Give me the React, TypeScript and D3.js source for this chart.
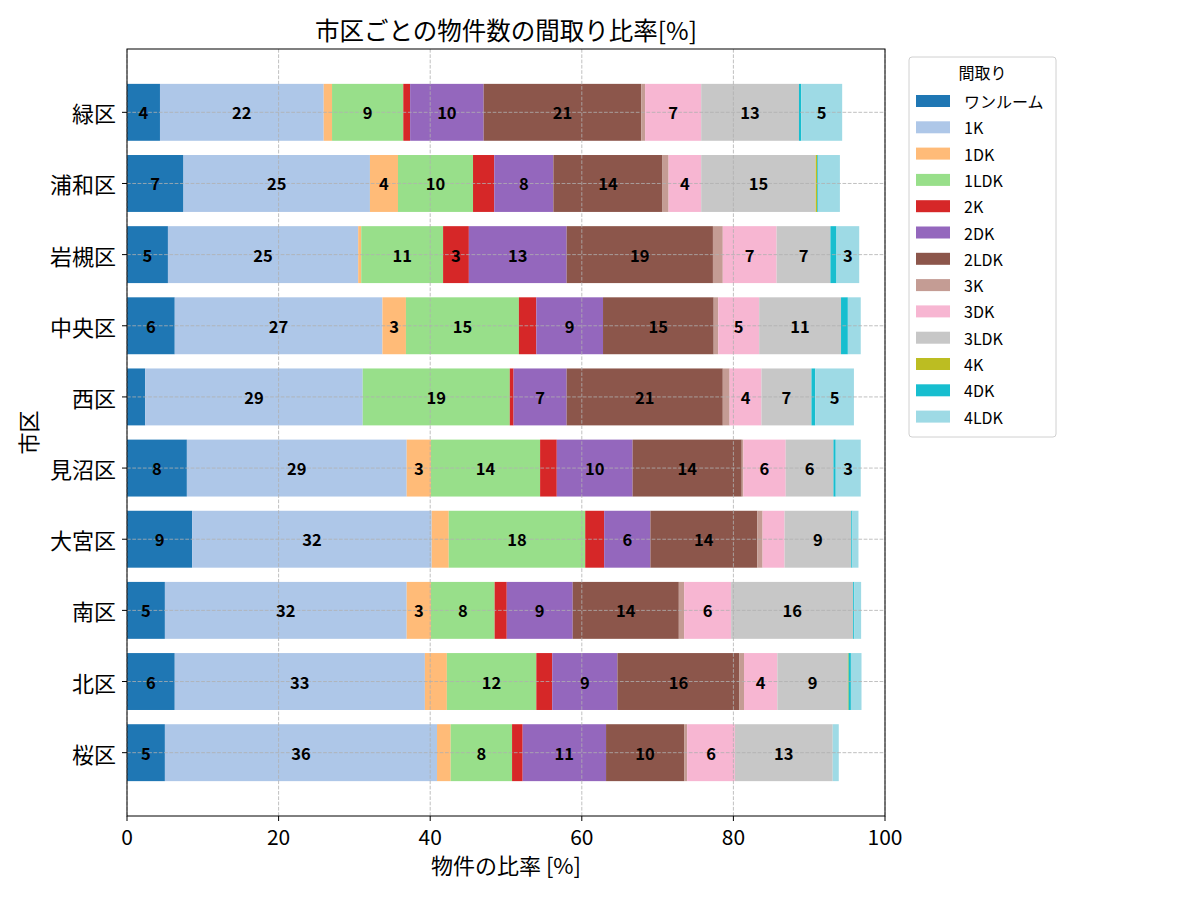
import React from 'react';
import * as d3 from 'd3';

// districts, listed top to bottom
const districts = ['緑区', '浦和区', '岩槻区', '中央区', '西区', '見沼区', '大宮区', '南区', '北区', '桜区'];

const layouts = ['ワンルーム', '1K', '1DK', '1LDK', '2K', '2DK', '2LDK', '3K', '3DK', '3LDK', '4K', '4DK', '4LDK'];

// share of listings [%] per layout, one value per district (same order as districts)
const oneRoom = [4.35, 7.45, 5.4, 6.3, 2.4, 7.9, 8.6, 5.0, 6.3, 5.0];
const k1 = [21.6, 24.6, 25.1, 27.4, 28.7, 29.0, 31.6, 31.9, 33.0, 35.9];
const dk1 = [1.1, 3.7, 0.4, 3.1, 0, 3.2, 2.25, 3.2, 2.9, 1.8];
const ldk1 = [9.4, 9.9, 10.8, 14.9, 19.4, 14.4, 18.0, 8.4, 11.8, 8.1];
const k2 = [0.9, 2.8, 3.4, 2.3, 0.5, 2.2, 2.5, 1.6, 2.1, 1.4];
const dk2 = [9.7, 7.8, 12.9, 8.8, 7.0, 10.0, 6.1, 8.7, 8.6, 11.0];
const ldk2 = [20.8, 14.4, 19.3, 14.6, 20.6, 14.4, 14.1, 14.0, 16.1, 10.3];
const k3 = [0.5, 0.8, 1.3, 0.6, 0.9, 0.2, 0.7, 0.7, 0.6, 0.4];
const dk3 = [7.4, 4.3, 7.1, 5.4, 4.2, 5.6, 2.9, 6.2, 4.4, 6.3];
const ldk3 = [12.9, 15.1, 7.1, 10.8, 6.6, 6.3, 8.8, 16.1, 9.3, 12.9];
const k4 = [0, 0.2, 0, 0, 0, 0, 0, 0, 0.1, 0];
const dk4 = [0.3, 0.1, 0.8, 0.9, 0.5, 0.3, 0.15, 0.15, 0.3, 0];
const ldk4 = [5.4, 2.9, 3.0, 1.7, 5.1, 3.3, 0.8, 0.9, 1.4, 0.8];

const series = [oneRoom, k1, dk1, ldk1, k2, dk2, ldk2, k3, dk3, ldk3, k4, dk4, ldk4];

const colors = [
  '#1f77b4', '#aec7e8', '#ffbb78', '#98df8a', '#d62728', '#9467bd', '#8c564b',
  '#c49c94', '#f7b6d2', '#c7c7c7', '#bcbd22', '#17becf', '#9edae5'
];

const xTicks = [0, 20, 40, 60, 80, 100];

const FONT = '"Noto Sans CJK JP", "Noto Sans", sans-serif';

export default function App() {
  const width = 1200;
  const height = 900;
  const margin = { top: 49, right: 315, bottom: 84, left: 127 };
  const innerW = width - margin.left - margin.right;
  const innerH = height - margin.top - margin.bottom;

  const n = districts.length;
  const barH = 0.8;
  const pad = (n - 1 + barH) * 0.05;

  const x = d3.scaleLinear().domain([0, 100]).range([0, innerW]);
  // row 0 at the top
  const y = d3.scaleLinear()
    .domain([-barH / 2 - pad, n - 1 + barH / 2 + pad])
    .range([0, innerH]);
  const bandPx = Math.abs(y(barH) - y(0));

  const table = districts.map((d, i) => {
    const row: Record<string, number | string> = { district: d };
    layouts.forEach((l, j) => { row[l] = series[j][i]; });
    return row;
  });
  const stacked = d3.stack<any>().keys(layouts)(table);
  const color = d3.scaleOrdinal<string, string>().domain(layouts).range(colors);
  const fmt = d3.format('.0f');

  const legendX = 909;
  const legendY = 57;

  return (
    <svg width={width} height={height} style={{ position: 'absolute', left: 0, top: 0, background: '#fff' }}
      fontFamily={FONT}>
      <text x={margin.left + innerW / 2} y={40} textAnchor="middle" fontSize={24.5}>
        市区ごとの物件数の間取り比率[%]
      </text>
      <g transform={`translate(${margin.left},${margin.top})`}>
        {stacked.map((s) => (
          <g key={s.key}>
            {s.map((seg, i) => (
              <rect key={i} x={x(seg[0])} y={y(i) - bandPx / 2}
                width={x(seg[1]) - x(seg[0])} height={bandPx} fill={color(s.key)} />
            ))}
          </g>
        ))}
        {/* grid drawn over the bars */}
        {xTicks.map((t) => (
          <line key={t} x1={x(t)} x2={x(t)} y1={0} y2={innerH}
            stroke="#b0b0b0" strokeWidth={0.8} strokeDasharray="3.7,1.6" />
        ))}
        {districts.map((d, i) => (
          <line key={d} x1={0} x2={innerW} y1={y(i)} y2={y(i)}
            stroke="#b0b0b0" strokeWidth={0.8} strokeDasharray="3.7,1.6" />
        ))}
        {stacked.map((s) =>
          s.map((seg, i) => {
            const v = seg[1] - seg[0];
            if (v < 3) return null;
            return (
              <text key={`${s.key}-${i}`} x={x((seg[0] + seg[1]) / 2)} y={y(i)}
                textAnchor="middle" dominantBaseline="central" fontSize={16.5} fontWeight="bold">
                {fmt(v)}
              </text>
            );
          })
        )}
        <rect x={0} y={0} width={innerW} height={innerH} fill="none" stroke="#000" strokeWidth={1} />
        {xTicks.map((t) => (
          <g key={t} transform={`translate(${x(t)},${innerH})`}>
            <line y1={0} y2={5} stroke="#000" />
            <text y={29} textAnchor="middle" fontSize={21}>{t}</text>
          </g>
        ))}
        {districts.map((d, i) => (
          <g key={d} transform={`translate(0,${y(i)})`}>
            <line x1={0} x2={-5} stroke="#000" />
            <text x={-11} textAnchor="end" dominantBaseline="central" fontSize={22}>{d}</text>
          </g>
        ))}
        <text x={innerW / 2} y={innerH + 58} textAnchor="middle" fontSize={22}>物件の比率 [%]</text>
        <text transform={`translate(${-90},${innerH / 2}) rotate(-90)`} textAnchor="middle" fontSize={22}>市区</text>
      </g>
      <g transform={`translate(${legendX},${legendY})`}>
        <rect x={0} y={0} width={147} height={380} rx={3} fill="#fff" fillOpacity={0.8} stroke="#d0d0d0" />
        <text x={73.5} y={22} textAnchor="middle" fontSize={16}>間取り</text>
        {layouts.map((l, j) => (
          <g key={l} transform={`translate(7,${44 + j * 26.3})`}>
            <rect x={0} y={-6} width={34} height={12} fill={color(l)} />
            <text x={48} y={0} dominantBaseline="central" fontSize={16}>{l}</text>
          </g>
        ))}
      </g>
    </svg>
  );
}
